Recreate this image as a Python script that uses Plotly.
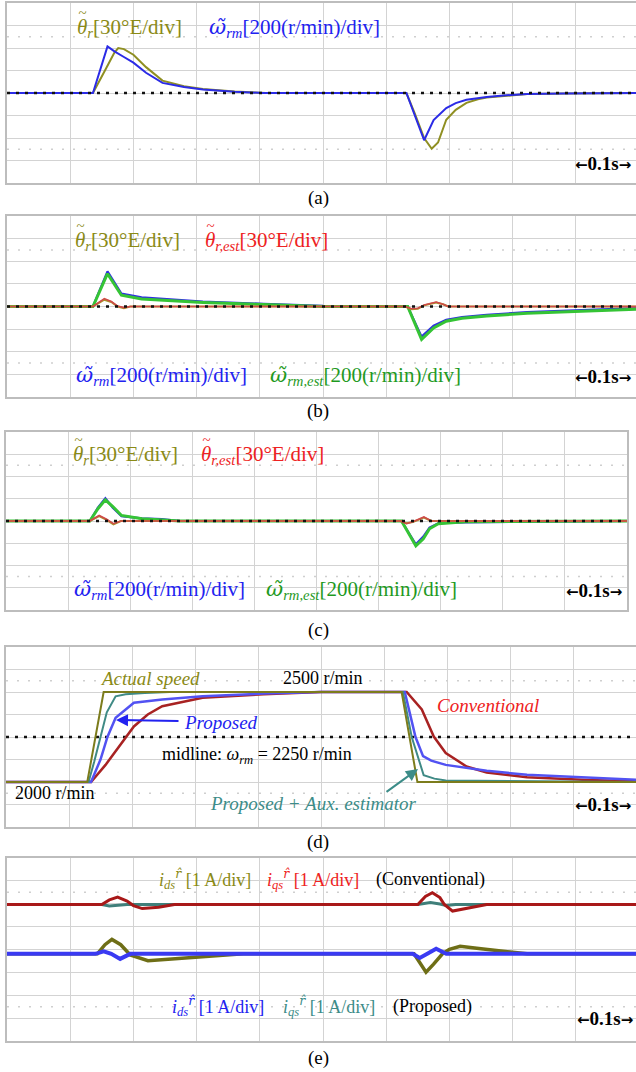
import plotly.graph_objects as go

W, H = 636, 1072

# ---------------- data (time in divisions, amplitude in divisions) ----------------
# (a)
a_theta_t = [0, 1.36, 1.55, 1.7, 1.76, 1.85, 2.0, 2.2, 2.46, 2.8, 3.1, 3.6, 4.1, 6.32, 6.45, 6.6, 6.72, 6.82, 6.95, 7.1, 7.27, 7.45, 7.59, 7.9, 8.23, 8.8, 10]
a_theta_v = [0, 0, 1.0, 1.8, 2.0, 1.95, 1.7, 1.15, 0.55, 0.3, 0.18, 0.07, 0, 0, -0.9, -2.0, -2.48, -2.2, -1.19, -0.75, -0.44, -0.28, -0.2, -0.12, -0.05, -0.02, 0]
a_omega_t = [0, 1.36, 1.59, 1.7, 1.85, 2.0, 2.2, 2.46, 2.8, 3.1, 3.6, 4.05, 6.32, 6.6, 6.75, 6.95, 7.1, 7.27, 7.59, 7.9, 8.23, 8.8, 10]
a_omega_v = [0, 0, 2.07, 1.85, 1.6, 1.35, 0.9, 0.45, 0.27, 0.16, 0.06, 0, 0, -2.1, -1.2, -0.67, -0.45, -0.3, -0.18, -0.1, -0.05, -0.02, 0]

# (b)
b_theta_t = [0, 1.36, 1.54, 1.65, 1.75, 1.85, 1.95, 6.3, 6.4, 6.5, 6.6, 6.79, 6.9, 6.98, 10]
b_theta_v = [0, 0, 0.3, 0.2, 0.0, -0.08, 0, 0, -0.12, -0.1, 0.05, 0.18, 0.1, 0, 0]
b_theta_est_v = [0, 0, 0.35, 0.22, 0.02, -0.05, 0, 0, -0.1, -0.08, 0.07, 0.2, 0.1, 0, 0]
b_omega_t = [0, 1.36, 1.59, 1.7, 1.81, 2.13, 2.6, 3.1, 4.06, 5.0, 6.34, 6.56, 6.75, 6.95, 7.2, 7.59, 8.23, 9.19, 10]
b_omega_v = [0, 0, 1.55, 1.05, 0.57, 0.4, 0.3, 0.22, 0.12, 0.03, 0, -1.33, -0.85, -0.59, -0.47, -0.37, -0.25, -0.15, -0.07]
b_omega_est_v = [0, 0, 1.45, 1.0, 0.5, 0.33, 0.25, 0.18, 0.09, 0.0, 0, -1.45, -0.95, -0.65, -0.52, -0.42, -0.3, -0.2, -0.12]

# (c)
c_theta_t = [0, 1.35, 1.5, 1.62, 1.73, 1.85, 6.35, 6.45, 6.55, 6.73, 6.85, 10]
c_theta_v = [0, 0, 0.22, 0.05, -0.15, 0, 0, -0.1, -0.05, 0.15, 0, 0]
c_theta_est_v = [0, 0, 0.25, 0.08, -0.12, 0, 0, -0.12, -0.03, 0.18, 0, 0]
c_omega_t = [0, 1.35, 1.48, 1.6, 1.72, 1.86, 2.19, 2.51, 2.8, 6.37, 6.5, 6.6, 6.72, 6.82, 6.96, 7.4, 10]
c_omega_v = [0, 0, 0.6, 1.02, 0.6, 0.22, 0.12, 0.08, 0, 0, -0.6, -1.05, -0.7, -0.3, -0.1, -0.06, 0]
c_omega_est_v = [0, 0, 0.55, 0.95, 0.65, 0.25, 0.1, 0.05, 0, 0, -0.65, -1.12, -0.8, -0.35, -0.12, -0.03, 0]

# (d)
d_actual_t = [0, 1.29, 1.55, 6.28, 6.53, 10]
d_actual_v = [-2, -2, 2, 2, -2, -2]
d_aux_t = [0, 1.31, 1.4, 1.5, 1.6, 1.74, 1.9, 2.2, 2.6, 6.3, 6.44, 6.63, 6.8, 6.98, 8.3, 10]
d_aux_v = [-2, -2, -1.1, 0.0, 1.1, 1.81, 1.9, 1.96, 2.0, 2.0, 0, -1.7, -1.85, -1.93, -1.96, -2.0]
d_prop_t = [0, 1.35, 1.5, 1.61, 1.74, 2.03, 2.48, 3.12, 4.09, 5.0, 6.33, 6.42, 6.5, 6.62, 6.75, 6.98, 7.63, 8.27, 9.24, 10]
d_prop_v = [-2, -2, -1.0, 0, 0.85, 1.52, 1.67, 1.81, 1.93, 2.0, 2.0, 1.0, 0, -0.85, -1.05, -1.24, -1.5, -1.68, -1.79, -1.9]
d_conv_t = [0, 1.35, 1.58, 1.84, 2.03, 2.25, 2.48, 3.12, 4.09, 5.0, 6.36, 6.6, 6.79, 6.98, 7.31, 7.63, 8.27, 9.24, 10]
d_conv_v = [-2, -2, -1.24, -0.27, 0.47, 1.0, 1.37, 1.74, 1.9, 2.0, 2.0, 1.22, 0.02, -0.71, -1.31, -1.58, -1.79, -1.91, -1.97]

# (e)  values relative to each trace pair's offset
e_conv_offset = 1.97
e_prop_offset = -0.19
e_conv_iqs_t = [0, 1.5, 1.62, 1.75, 1.9, 2.0, 2.14, 2.4, 2.65, 6.5, 6.62, 6.73, 6.85, 6.92, 7.05, 7.3, 7.59, 10]
e_conv_iqs_v = [0, 0, 0.2, 0.32, 0.15, -0.05, -0.18, -0.12, 0, 0, 0.35, 0.51, 0.3, 0, -0.29, -0.15, 0, 0]
e_conv_ids_t = [0, 1.5, 1.62, 1.75, 1.9, 6.5, 6.7, 6.85, 6.95, 7.1, 10]
e_conv_ids_v = [0, 0, -0.07, -0.03, 0, 0, 0.08, 0.02, -0.05, 0, 0]
e_prop_a_t = [0, 1.43, 1.55, 1.66, 1.8, 1.95, 2.23, 2.6, 3.0, 3.4, 3.74, 6.44, 6.55, 6.63, 6.75, 6.89, 7.0, 7.17, 7.5, 7.9, 8.23, 10]
e_prop_a_v = [0, 0, 0.4, 0.63, 0.4, -0.05, -0.3, -0.22, -0.15, -0.08, 0, 0, -0.5, -0.8, -0.45, 0, 0.2, 0.33, 0.22, 0.1, 0, 0]
e_prop_b_t = [0, 1.4, 1.53, 1.65, 1.79, 1.95, 6.42, 6.53, 6.65, 6.79, 6.95, 10]
e_prop_b_v = [0, 0, 0.11, 0.0, -0.22, 0, 0, -0.18, 0, 0.22, 0, 0]

# ---------------- layout geometry (pixels) ----------------
panels = {
    # name: (left, right, top, bottom, x_range_max, right_border)
    "a": (7, 636, 3, 183, (636 - 7) / 63.2, False),
    "b": (7, 636, 216, 397, (636 - 7) / 63.2, False),
    "c": (6, 627, 432, 610, 10.0, True),
    "d": (6, 636, 647, 827, (636 - 6) / 63.0, False),
    "e": (7, 636, 858, 1041, (636 - 7) / 63.2, False),
}
order = ["a", "b", "c", "d", "e"]

fig = go.Figure()
GRID = "#d3d3d3"
BORDER = "#bdbdbd"
SERIF = "Liberation Serif"

layout_axes = {}
for i, name in enumerate(order):
    l, r, t, b, xmax, rb = panels[name]
    sfx = "" if i == 0 else str(i + 1)
    layout_axes["xaxis" + sfx] = dict(
        domain=[l / W, r / W], range=[0, xmax], dtick=1, tick0=0,
        showgrid=True, gridcolor=GRID, gridwidth=1, zeroline=False,
        showticklabels=False, ticks="", showline=True, mirror=True,
        linecolor=BORDER, linewidth=2, anchor="y" + sfx, fixedrange=True)
    layout_axes["yaxis" + sfx] = dict(
        domain=[1 - b / H, 1 - t / H], range=[-4, 4], dtick=1, tick0=0,
        showgrid=True, gridcolor=GRID, gridwidth=1, zeroline=False,
        showticklabels=False, ticks="", showline=True, mirror=rb,
        linecolor=BORDER, linewidth=2, anchor="x" + sfx, fixedrange=True)


def ax(name):
    i = order.index(name)
    sfx = "" if i == 0 else str(i + 1)
    return "x" + sfx, "y" + sfx


def line(name, t, v, color, width=2, offset=0.0):
    xa, ya = ax(name)
    fig.add_trace(go.Scatter(x=t, y=[val + offset for val in v], mode="lines",
                             line=dict(color=color, width=width),
                             xaxis=xa, yaxis=ya, hoverinfo="skip", showlegend=False))


def faint_dots(name):
    xa, ya = ax(name)
    xmax = panels[name][4]
    for yy in (2.5, -2.5):
        fig.add_trace(go.Scatter(x=[0, xmax], y=[yy, yy], mode="lines",
                                 line=dict(color="#cfcfcf", width=1.5, dash="2px,9px"),
                                 xaxis=xa, yaxis=ya, hoverinfo="skip", showlegend=False))


def midline(name):
    xa, ya = ax(name)
    xmax = panels[name][4]
    fig.add_trace(go.Scatter(x=[0, xmax], y=[0, 0], mode="lines",
                             line=dict(color="#111111", width=2.5, dash="3px,6px"),
                             xaxis=xa, yaxis=ya, hoverinfo="skip", showlegend=False))


for n in order:
    faint_dots(n)

# (a)
line("a", a_theta_t, a_theta_v, "#8f8f22", 2)
line("a", a_omega_t, a_omega_v, "#2b2be6", 2)
midline("a")

# (b)
line("b", b_omega_t, b_omega_v, "#2f2fe0", 2.2)
line("b", b_omega_t, b_omega_est_v, "#35c435", 3)
line("b", b_theta_t, b_theta_v, "#a8962a", 2)
line("b", b_theta_t, b_theta_est_v, "#d04a4a", 1.6)
midline("b")

# (c)
line("c", c_omega_t, c_omega_v, "#2f2fe0", 2.2)
line("c", c_omega_t, c_omega_est_v, "#35c435", 3)
line("c", c_theta_t, c_theta_v, "#a8962a", 2)
line("c", c_theta_t, c_theta_est_v, "#d04a4a", 1.6)
midline("c")

# (d)
midline("d")
line("d", d_conv_t, d_conv_v, "#a82222", 2.5)
line("d", d_prop_t, d_prop_v, "#5252f2", 2.5)
line("d", d_aux_t, d_aux_v, "#3f8a85", 2)
line("d", d_actual_t, d_actual_v, "#7c7c1c", 2)

# (e)
line("e", e_conv_ids_t, e_conv_ids_v, "#3f7f7a", 3, e_conv_offset)
line("e", e_conv_iqs_t, e_conv_iqs_v, "#a81818", 3, e_conv_offset)
line("e", e_prop_a_t, e_prop_a_v, "#6e6e16", 3.5, e_prop_offset)
line("e", e_prop_b_t, e_prop_b_v, "#3a3af2", 4, e_prop_offset)

# ---------------- texts ----------------
annotations = []


def txt(xl, yc, s, color="black", size=21, anchor="left", **extra):
    d = dict(x=xl / W, y=1 - yc / H, xref="paper", yref="paper",
             text=s, showarrow=False, xanchor=anchor, yanchor="middle",
             font=dict(family=SERIF, size=size, color=color))
    d.update(extra)
    annotations.append(d)


OLIVE = "#8a8a16"
BLUE = "#2222f0"
RED = "#ee2222"
GREEN = "#1f9a1f"
TEAL = "#3c8c88"

DJ = "<span style=\"font-family:'DejaVu Serif'\">"
OM_SYM = DJ + "<i>ω̃</i></span>"
RHAT = DJ + "<i>r̂</i></span>"


def theta_label(xl, yc, s, color):
    txt(xl, yc, "<i>θ</i>" + s, color)
    txt(xl + 7, yc - 15, "~", color, 15, "center", height=6, width=9)


TH_R = "<sub><i>r</i></sub>[30°E/div]"
TH_E = "<sub><i>r,est</i></sub>[30°E/div]"
OM = OM_SYM + "<sub><i>rm</i></sub>[200(r/min)/div]"
OME = OM_SYM + "<sub><i>rm,est</i></sub>[200(r/min)/div]"
AR = "<span style=\"font-family:'DejaVu Sans';font-size:15px\">"
SCALE = "<b>" + AR + "←</span>0.1s" + AR + "→</span></b>"

# (a)
theta_label(75, 28, TH_R, OLIVE)
txt(207, 28, OM, BLUE)
txt(573, 163, SCALE, size=19)
txt(318, 198, "(a)", size=19, anchor="center")
# (b)
theta_label(73, 241, TH_R, OLIVE)
theta_label(203, 241, TH_E, RED)
txt(74, 376, OM, BLUE)
txt(268, 376, OME, GREEN)
txt(573, 376, SCALE, size=19)
txt(318, 411, "(b)", size=19, anchor="center")
# (c)
theta_label(71, 455, TH_R, OLIVE)
theta_label(199, 455, TH_E, RED)
txt(72, 590, OM, BLUE)
txt(264, 590, OME, GREEN)
txt(564, 590, SCALE, size=19)
txt(318, 630, "(c)", size=19, anchor="center")
# (d)
txt(98, 678, "<i>Actual speed</i>", OLIVE, 19)
txt(281, 678, "2500 r/min", "black", 18)
txt(435, 705, "<i>Conventional</i>", RED, 19)
txt(182, 722, "<i>Proposed</i>", BLUE, 19)
txt(160, 755, "midline: <i>ω</i><sub><i>rm</i></sub> = 2250 r/min", "black", 18)
txt(13, 793, "2000 r/min", "black", 18)
txt(208, 803, "<i>Proposed + Aux. estimator</i>", TEAL, 19)
txt(573, 804, SCALE, size=19)
txt(318, 842, "(d)", size=19, anchor="center")
# (e)
IDS = "<i>i</i><sub><i>ds</i></sub><sup>" + RHAT + "</sup> [1 A/div]"
IQS = "<i>i</i><sub><i>qs</i></sub><sup>" + RHAT + "</sup> [1 A/div]"
txt(157, 879, IDS, OLIVE, 18)
txt(265, 879, IQS, RED, 18)
txt(374, 879, "(Conventional)", "black", 18)
txt(170, 1006, IDS, BLUE, 18)
txt(281, 1006, IQS, TEAL, 18)
txt(391, 1006, "(Proposed)", "black", 18)
txt(575, 1018, SCALE, size=19)
txt(318, 1058, "(e)", size=19, anchor="center")

# arrows in (d)
annotations.append(dict(x=116 / W, y=1 - 720 / H, xref="paper", yref="paper",
                        ax=64, ay=1, axref="pixel", ayref="pixel", text="",
                        showarrow=True, arrowhead=2, arrowsize=1.2, arrowwidth=2,
                        arrowcolor=BLUE))
annotations.append(dict(x=418 / W, y=1 - 769 / H, xref="paper", yref="paper",
                        ax=-33, ay=24, axref="pixel", ayref="pixel", text="",
                        showarrow=True, arrowhead=2, arrowsize=1.2, arrowwidth=2,
                        arrowcolor=TEAL))

fig.update_layout(width=W, height=H, margin=dict(l=0, r=0, t=0, b=0),
                  paper_bgcolor="white", plot_bgcolor="white",
                  showlegend=False, annotations=annotations, **layout_axes)

fig.write_html("out.html", config={"displayModeBar": False},
               post_script="document.body.style.margin='0';document.body.style.overflow='hidden';")
